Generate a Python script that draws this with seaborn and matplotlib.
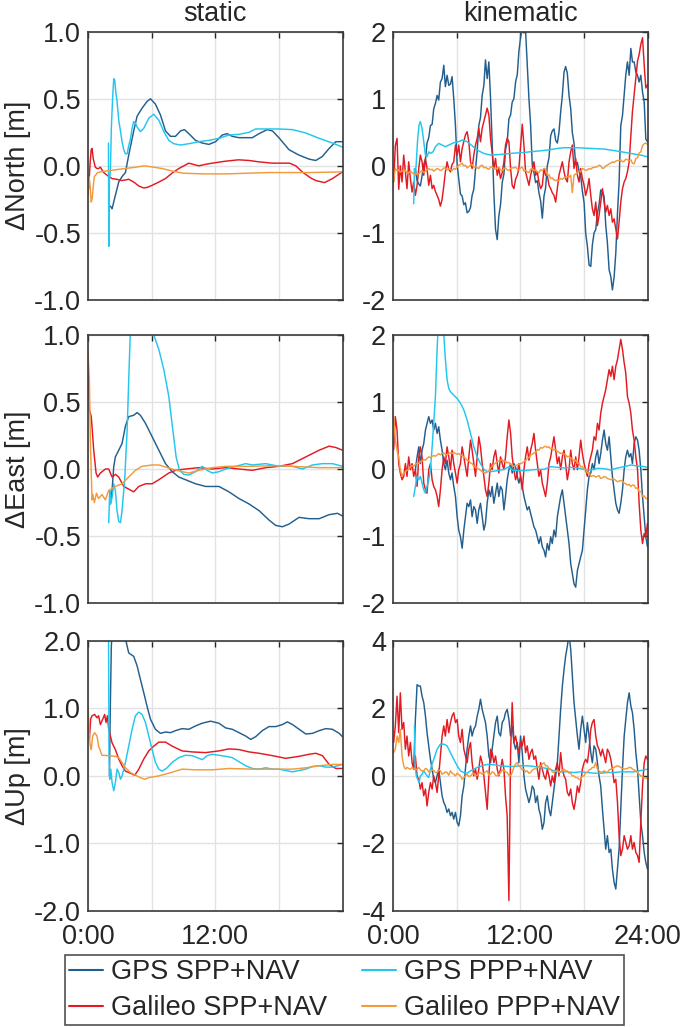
import matplotlib
matplotlib.use("Agg")
import matplotlib.pyplot as plt
import pandas as pd
import seaborn as sns

# ---------------------------------------------------------------- labels
SERIES = ["GPS SPP+NAV", "Galileo SPP+NAV", "GPS PPP+NAV", "Galileo PPP+NAV"]
COLORS = {"GPS SPP+NAV": "#235f8e", "GPS PPP+NAV": "#22c6ef",
          "Galileo SPP+NAV": "#e31a22", "Galileo PPP+NAV": "#f29a3c"}
COL_TITLES = ["static", "kinematic"]
ROW_LABELS = ["\u0394North [m]", "\u0394East [m]", "\u0394Up [m]"]
X_TICKS = [0, 6, 12, 18, 24]
X_LABELS_STATIC = ["0:00", "", "12:00", "", ""]
X_LABELS_KIN = ["0:00", "", "12:00", "", "24:00"]
Y_TICKS = {(0, 0): [-1, -0.5, 0, 0.5, 1], (1, 0): [-1, -0.5, 0, 0.5, 1], (2, 0): [-2, -1, 0, 1, 2],
           (0, 1): [-2, -1, 0, 1, 2], (1, 1): [-2, -1, 0, 1, 2], (2, 1): [-4, -2, 0, 2, 4]}
Y_LABELS = {(0, 0): ["-1.0", "-0.5", "0.0", "0.5", "1.0"], (1, 0): ["-1.0", "-0.5", "0.0", "0.5", "1.0"],
            (2, 0): ["-2.0", "-1.0", "0.0", "1.0", "2.0"], (0, 1): ["-2", "-1", "0", "1", "2"],
            (1, 1): ["-2", "-1", "0", "1", "2"], (2, 1): ["-4", "-2", "0", "2", "4"]}

# ---------------------------------------------------------------- static North
sn_gps_spp_t = [2.11, 2.27, 2.58, 2.90, 3.21, 3.53, 3.84, 4.31, 4.63, 5.10, 5.57, 5.89, 6.36, 6.83, 7.31, 7.78,
                8.25, 8.72, 9.10, 9.51, 10.14, 10.77, 11.40, 12.03, 12.66, 13.13, 13.60, 14.24, 15.50, 16.13,
                16.90, 17.40, 18.00, 18.96, 19.90, 20.85, 21.48, 22.10, 22.74, 23.37, 24.00]
sn_gps_spp_v = [-0.30, -0.32, -0.22, -0.12, -0.08, -0.05, 0.08, 0.26, 0.37, 0.43, 0.48, 0.50, 0.46, 0.38, 0.26,
                0.22, 0.22, 0.26, 0.27, 0.24, 0.19, 0.17, 0.16, 0.18, 0.23, 0.24, 0.22, 0.21, 0.21, 0.24, 0.27,
                0.26, 0.21, 0.12, 0.08, 0.05, 0.04, 0.07, 0.13, 0.18, 0.18]
sn_gps_ppp_t = [1.93, 1.96, 2.02, 2.11, 2.20, 2.33, 2.43, 2.52, 2.62, 2.74, 2.90, 3.06, 3.21, 3.37, 3.53, 3.69,
                3.84, 4.00, 4.16, 4.31, 4.47, 4.63, 4.94, 5.26, 5.73, 6.20, 6.68, 7.15, 7.62, 8.09, 8.72, 9.51,
                10.46, 11.40, 12.35, 13.29, 14.24, 15.18, 15.81, 16.76, 18.00, 19.28, 20.54, 21.80, 23.05, 24.00]
sn_gps_ppp_v = [0.17, -0.60, -0.10, -0.05, 0.28, 0.52, 0.65, 0.64, 0.55, 0.48, 0.34, 0.26, 0.18, 0.12, 0.09,
                0.09, 0.15, 0.20, 0.28, 0.33, 0.32, 0.29, 0.255, 0.28, 0.355, 0.385, 0.34, 0.255, 0.19, 0.165,
                0.155, 0.165, 0.18, 0.19, 0.205, 0.23, 0.235, 0.25, 0.275, 0.275, 0.275, 0.27, 0.245, 0.205,
                0.17, 0.14]
sn_gal_spp_t = [0.00, 0.06, 0.20, 0.30, 0.38, 0.50, 0.69, 0.85, 1.00, 1.17, 1.48, 1.80, 2.27, 2.70, 3.20, 3.84,
                4.30, 4.79, 5.26, 5.60, 6.05, 6.70, 7.30, 8.00, 8.57, 9.50, 10.46, 11.00, 11.70, 13.00, 14.20,
                15.20, 16.10, 17.40, 19.00, 19.60, 20.20, 21.00, 21.50, 22.30, 23.05, 24.00]
sn_gal_spp_v = [-0.15, -0.17, 0.02, 0.12, 0.13, 0.05, -0.01, -0.02, -0.02, -0.01, -0.05, -0.07, -0.095, -0.10,
                -0.11, -0.10, -0.12, -0.15, -0.165, -0.16, -0.145, -0.12, -0.095, -0.05, -0.02, 0.02, 0.00,
                0.01, 0.02, 0.035, 0.045, 0.04, 0.03, 0.02, 0.02, 0.00, -0.045, -0.09, -0.11, -0.125, -0.095,
                -0.045]
sn_gal_ppp_t = [0.00, 0.10, 0.20, 0.30, 0.40, 0.50, 0.60, 0.90, 1.60, 2.50, 3.50, 4.50, 5.30, 6.20, 7.00, 8.00,
                9.00, 11.00, 13.00, 15.00, 17.00, 19.00, 21.00, 24.00]
sn_gal_ppp_v = [-0.22, -0.08, -0.15, -0.27, -0.24, -0.15, -0.08, -0.05, -0.04, -0.03, -0.02, -0.01, 0.00,
                -0.01, -0.02, -0.04, -0.055, -0.06, -0.06, -0.055, -0.05, -0.05, -0.05, -0.045]

# ---------------------------------------------------------------- static East
se_gps_spp_t = [2.11, 2.27, 2.43, 2.58, 2.90, 3.21, 3.53, 3.84, 4.31, 4.63, 4.94, 5.42, 6.05, 6.68, 7.31, 7.94,
                8.57, 9.20, 10.14, 11.09, 12.35, 13.29, 14.24, 15.18, 16.13, 17.07, 17.70, 18.33, 18.96, 19.90,
                20.85, 21.80, 22.74, 23.53, 24.00]
se_gps_spp_v = [-0.26, -0.16, 0.02, 0.09, 0.14, 0.19, 0.32, 0.39, 0.40, 0.42, 0.40, 0.34, 0.24, 0.14, 0.04,
                -0.02, -0.06, -0.08, -0.11, -0.13, -0.13, -0.17, -0.22, -0.26, -0.31, -0.38, -0.42, -0.43,
                -0.41, -0.36, -0.37, -0.37, -0.34, -0.33, -0.35]
se_gps_ppp_t = [1.95, 2.05, 2.14, 2.27, 2.43, 2.58, 2.74, 2.90, 3.06, 3.21, 3.46, 3.69, 3.84, 4.00, 4.16, 4.94,
                5.73, 6.20, 6.68, 7.15, 7.62, 8.00, 8.31, 8.63, 9.04, 9.51, 10.14, 10.77, 11.24, 11.72, 12.35,
                12.98, 13.92, 14.87, 15.50, 16.76, 18.02, 19.28, 20.22, 21.17, 22.10, 23.05, 24.00]
se_gps_ppp_v = [-0.40, -0.16, -0.26, -0.21, -0.11, -0.16, -0.31, -0.39, -0.40, -0.31, -0.08, 0.29, 0.66, 1.04,
                1.30, 1.90, 1.50, 1.00, 0.89, 0.74, 0.54, 0.29, 0.09, -0.01, -0.04, -0.045, -0.02, 0.02, -0.01,
                -0.03, -0.02, 0.00, 0.02, 0.04, 0.03, 0.04, 0.02, 0.02, 0.00, 0.03, 0.04, 0.04, 0.02]
se_gal_spp_t = [0.00, 0.13, 0.31, 0.54, 0.76, 0.91, 1.17, 1.64, 1.95, 2.27, 2.58, 2.90, 3.37, 3.84, 4.31, 4.79,
                5.42, 6.05, 6.68, 7.62, 8.25, 9.20, 10.46, 11.72, 12.98, 14.24, 15.50, 16.76, 18.02, 19.28,
                20.54, 21.80, 22.74, 23.37, 24.00]
se_gal_spp_v = [0.79, 0.44, 0.39, 0.14, -0.03, -0.06, -0.03, 0.00, 0.00, -0.06, -0.04, -0.06, -0.13, -0.15,
                -0.17, -0.13, -0.11, -0.11, -0.08, -0.03, -0.01, 0.00, 0.01, 0.00, 0.01, 0.00, -0.01, 0.01,
                0.02, 0.04, 0.09, 0.14, 0.17, 0.16, 0.14]
se_gal_ppp_t = [0.00, 0.13, 0.22, 0.38, 0.45, 0.60, 0.80, 1.00, 1.32, 1.64, 1.95, 2.58, 3.21, 3.84, 4.47, 5.10,
                6.05, 6.68, 7.94, 8.88, 9.51, 10.46, 11.72, 12.98, 15.50, 17.40, 19.28, 21.80, 24.00]
se_gal_ppp_v = [0.86, 0.66, 0.22, -0.23, -0.19, -0.25, -0.18, -0.22, -0.19, -0.23, -0.16, -0.13, -0.11, -0.06,
                -0.01, 0.02, 0.03, 0.03, 0.00, -0.02, -0.03, -0.01, 0.01, 0.02, 0.02, 0.025, 0.02, 0.01, 0.01]

# ---------------------------------------------------------------- static Up
su_gps_spp_t = [2.02, 2.11, 2.20, 2.43, 2.90, 3.53, 3.84, 4.31, 4.63, 4.94, 5.26, 5.57, 5.89, 6.36, 6.83, 7.31,
                7.78, 8.25, 8.88, 9.51, 10.14, 10.77, 11.56, 12.35, 12.98, 13.61, 14.24, 14.87, 15.34, 15.81,
                16.44, 17.07, 17.70, 18.33, 18.80, 19.28, 19.91, 20.54, 21.17, 21.80, 22.43, 23.05, 23.69, 24.00]
su_gps_spp_v = [0.00, 1.08, 1.92, 2.60, 2.50, 2.03, 1.82, 1.77, 1.63, 1.43, 1.23, 1.03, 0.84, 0.69, 0.63, 0.65,
                0.64, 0.67, 0.70, 0.69, 0.74, 0.78, 0.81, 0.78, 0.71, 0.69, 0.64, 0.59, 0.54, 0.58, 0.67, 0.73,
                0.73, 0.76, 0.80, 0.76, 0.69, 0.62, 0.63, 0.67, 0.70, 0.69, 0.63, 0.58]
su_gps_ppp_t = [1.93, 1.98, 2.05, 2.15, 2.27, 2.43, 2.58, 2.74, 2.90, 3.06, 3.21, 3.37, 3.53, 3.84, 4.16, 4.47,
                4.79, 5.10, 5.42, 5.73, 6.05, 6.36, 6.68, 6.99, 7.46, 7.94, 8.57, 9.20, 9.83, 10.46, 10.77,
                11.24, 11.72, 12.35, 12.98, 13.61, 14.24, 14.87, 15.50, 16.13, 16.76, 17.39, 18.02, 18.65,
                19.28, 19.91, 20.54, 21.17, 21.80, 22.43, 23.05, 24.00]
su_gps_ppp_v = [2.40, 0.30, -0.05, 0.10, -0.10, -0.22, -0.10, 0.10, 0.05, -0.05, 0.00, 0.10, 0.20, 0.44, 0.69,
                0.89, 0.945, 0.91, 0.79, 0.59, 0.39, 0.20, 0.10, 0.07, 0.12, 0.20, 0.27, 0.305, 0.30, 0.26,
                0.24, 0.30, 0.32, 0.305, 0.29, 0.27, 0.21, 0.15, 0.11, 0.10, 0.12, 0.10, 0.10, 0.08, 0.06,
                0.08, 0.10, 0.14, 0.15, 0.13, 0.13, 0.17]
su_gal_spp_t = [0.00, 0.13, 0.25, 0.38, 0.63, 0.85, 1.00, 1.17, 1.39, 1.57, 1.70, 1.83, 1.95, 2.27, 2.58, 2.90,
                3.21, 3.53, 4.00, 4.41, 4.79, 5.26, 5.73, 6.20, 6.68, 7.31, 7.94, 8.88, 9.83, 11.09, 12.35,
                13.29, 14.24, 15.18, 16.13, 17.39, 18.65, 19.91, 20.85, 21.48, 22.11, 22.74, 23.37, 24.00]
su_gal_spp_v = [0.74, 0.54, 0.84, 0.89, 0.91, 0.86, 0.89, 0.76, 0.84, 0.91, 0.79, 0.89, 0.69, 0.49, 0.39, 0.25,
                0.15, 0.07, 0.04, 0.01, 0.10, 0.25, 0.37, 0.44, 0.50, 0.50, 0.44, 0.37, 0.355, 0.345, 0.37,
                0.40, 0.39, 0.355, 0.335, 0.30, 0.26, 0.29, 0.32, 0.335, 0.30, 0.17, 0.11, 0.11]
su_gal_ppp_t = [0.00, 0.13, 0.22, 0.31, 0.44, 0.63, 0.85, 1.00, 1.32, 1.95, 2.58, 2.90, 3.21, 3.53, 4.00, 4.47,
                4.94, 5.35, 5.73, 6.68, 7.62, 8.88, 10.14, 11.72, 13.29, 15.50, 17.39, 19.28, 20.54, 21.80,
                23.05, 24.00]
su_gal_ppp_v = [1.03, 0.59, 0.44, 0.39, 0.59, 0.64, 0.59, 0.44, 0.305, 0.30, 0.29, 0.27, 0.20, 0.12, 0.05, 0.01,
                -0.025, -0.05, -0.025, 0.00, 0.04, 0.10, 0.09, 0.09, 0.11, 0.10, 0.10, 0.10, 0.12, 0.15, 0.17,
                0.17]

# ---------------------------------------------------------------- kinematic sample times (hours)
T_K = [0.06, 0.22, 0.38, 0.54, 0.69, 0.85, 1.01, 1.17, 1.32, 1.48,
       1.64, 1.80, 1.95, 2.11, 2.27, 2.43, 2.58, 2.74, 2.90, 3.06,
       3.21, 3.37, 3.53, 3.69, 3.84, 4.00, 4.16, 4.31, 4.47, 4.63,
       4.79, 4.94, 5.10, 5.26, 5.42, 5.57, 5.73, 5.89, 6.05, 6.20,
       6.36, 6.52, 6.68, 6.83, 6.99, 7.15, 7.31, 7.46, 7.62, 7.78,
       7.94, 8.09, 8.25, 8.41, 8.57, 8.72, 8.88, 9.04, 9.20, 9.35,
       9.51, 9.67, 9.83, 9.98, 10.14, 10.30, 10.46, 10.61, 10.77, 10.93,
       11.09, 11.24, 11.40, 11.56, 11.72, 11.87, 12.03, 12.19, 12.35, 12.50,
       12.66, 12.82, 12.98, 13.13, 13.29, 13.45, 13.61, 13.76, 13.92, 14.08,
       14.24, 14.39, 14.55, 14.71, 14.87, 15.02, 15.18, 15.34, 15.50, 15.65,
       15.81, 15.97, 16.13, 16.28, 16.44, 16.60, 16.76, 16.91, 17.07, 17.23,
       17.39, 17.54, 17.70, 17.86, 18.02, 18.17, 18.33, 18.49, 18.65, 18.80,
       18.96, 19.12, 19.28, 19.43, 19.59, 19.75, 19.91, 20.06, 20.22, 20.38,
       20.54, 20.69, 20.85, 21.01, 21.17, 21.32, 21.48, 21.64, 21.80, 21.95,
       22.11, 22.27, 22.43, 22.58, 22.74, 22.90, 23.06, 23.21, 23.37, 23.53,
       23.69, 23.84, 24.00]

# ---------------------------------------------------------------- kinematic North
kn_gps_spp_v = [-0.05, -0.22, -0.27, -0.30, -0.15, 0.02, 0.10, 0.34, 0.42, 0.60,
                0.62, 0.85, 0.93, 1.05, 0.98, 1.25, 1.30, 1.50, 1.18, 1.35,
                1.20, 1.22, 1.33, 1.00, 0.60, 0.02, -0.20, -0.42, -0.45, -0.58,
                -0.55, -0.70, -0.68, -0.62, -0.44, -0.35, -0.05, 0.22, 0.60, 0.72,
                1.05, 1.20, 1.58, 1.30, 1.55, 1.00, 0.35, -0.40, -0.95, -1.10,
                -0.75, -0.58, -0.25, -0.12, 0.24, 0.36, 0.70, 0.76, 0.95, 1.00,
                1.25, 1.36, 1.70, 1.92, 2.05, 1.98, 2.02, 1.50, 1.00, 0.60,
                0.02, -0.10, -0.25, -0.22, -0.40, -0.52, -0.78, -0.45, -0.33, 0.00,
                0.12, 0.45, 0.52, 0.55, 0.38, 0.34, 0.50, 0.80, 1.05, 1.40,
                1.48, 1.38, 1.05, 0.85, 0.50, 0.34, 0.02, 0.05, -0.08, -0.15,
                -0.38, -0.55, -1.00, -1.20, -1.48, -1.50, -1.18, -1.00, -0.95, -0.70,
                -0.58, -0.36, -0.38, -0.46, -0.88, -1.15, -1.55, -1.65, -1.85, -1.66,
                -1.30, -0.70, -0.25, 0.60, 0.75, 1.05, 1.35, 1.55, 1.35, 1.75,
                1.55, 1.55, 1.40, 1.35, 1.25, 1.35, 1.10, 0.95, 0.40, 0.36]
kn_gal_spp_v = [-0.24, 0.30, 0.41, -0.35, 0.00, -0.24, 0.16, -0.09, -0.34, 0.06,
                -0.19, -0.39, -0.24, -0.44, -0.29, -0.04, 0.16, 0.06, -0.14, 0.11,
                -0.04, -0.29, -0.14, -0.34, -0.29, -0.38, -0.44, -0.50, -0.60, -0.50,
                -0.30, -0.09, 0.06, -0.05, -0.09, 0.02, 0.06, 0.31, 0.16, 0.31,
                0.06, 0.26, 0.36, 0.46, 0.51, 0.36, 0.06, -0.04, 0.16, 0.31,
                0.41, 0.56, 0.36, 0.56, 0.66, 0.76, 0.86, 0.76, 0.40, 0.20,
                -0.04, 0.11, -0.14, -0.04, -0.19, -0.10, 0.06, 0.31, 0.41, 0.36,
                -0.04, -0.29, -0.34, -0.20, -0.14, -0.04, 0.30, 0.62, 0.30, -0.09,
                -0.19, -0.29, -0.14, -0.04, 0.06, -0.14, -0.09, -0.24, -0.34, -0.29,
                -0.04, -0.14, -0.14, -0.29, -0.34, -0.40, -0.44, -0.54, -0.34, -0.14,
                -0.04, 0.06, -0.09, -0.19, -0.24, 0.06, 0.21, 0.31, -0.04, 0.11,
                -0.14, -0.24, -0.04, -0.19, -0.29, -0.44, -0.34, -0.19, -0.44, -0.64,
                -0.74, -0.54, -0.89, -0.74, -0.54, -0.34, -0.54, -0.69, -0.59, -0.74,
                -0.64, -0.84, -0.79, -0.94, -1.09, -0.84, -0.54, -0.34, -0.24, -0.19,
                -0.09, 0.06, 0.46, 0.81, 1.06, 1.31, 1.56, 1.66, 1.81, 1.91,
                1.50, 1.16, 1.21]
kn_gps_ppp_t = [1.95, 2.02, 2.11, 2.20, 2.33, 2.46, 2.58, 2.74, 2.90, 3.06, 3.21, 3.37, 3.53, 3.78, 4.00, 4.31,
                4.63, 4.94, 5.26, 5.73, 6.20, 6.52, 6.99, 7.46, 7.94, 8.57, 9.20, 10.14, 11.09, 12.35, 13.61,
                14.55, 15.50, 16.13, 17.39, 18.65, 19.91, 21.17, 22.43, 23.37, 24.00]
kn_gps_ppp_v = [-0.565, -0.04, -0.14, 0.06, 0.41, 0.61, 0.66, 0.56, 0.36, 0.16, 0.135, 0.21, 0.185, 0.21, 0.285,
                0.335, 0.31, 0.285, 0.31, 0.345, 0.36, 0.385, 0.36, 0.30, 0.235, 0.185, 0.16, 0.17, 0.185, 0.20,
                0.22, 0.235, 0.26, 0.27, 0.27, 0.26, 0.25, 0.22, 0.185, 0.16, 0.135]
kn_gal_ppp_v = [-0.21, -0.04, -0.07, -0.06, -0.09, -0.08, -0.06, -0.07, -0.11, -0.10,
                -0.08, -0.10, -0.12, -0.14, -0.11, -0.12, -0.09, -0.07, -0.10, -0.08,
                -0.06, -0.04, -0.06, -0.05, -0.08, -0.06, -0.04, -0.05, -0.07, -0.06,
                -0.03, -0.04, -0.06, -0.04, -0.06, -0.07, -0.04, -0.05, -0.02, 0.01,
                0.02, 0.04, 0.00, 0.01, -0.03, -0.01, 0.01, 0.02, -0.02, -0.01,
                -0.03, -0.04, 0.00, 0.01, -0.03, -0.02, -0.04, -0.05, -0.02, -0.01,
                -0.04, -0.05, -0.03, -0.02, -0.06, -0.07, -0.04, -0.03, -0.06, -0.07,
                -0.04, -0.03, -0.03, -0.02, -0.05, -0.06, -0.03, -0.02, -0.08, -0.07,
                -0.09, -0.10, -0.05, -0.04, -0.07, -0.06, -0.09, -0.10, -0.06, -0.07,
                -0.04, -0.05, -0.14, -0.13, -0.19, -0.18, -0.21, -0.22, -0.21, -0.22,
                -0.19, -0.20, -0.18, -0.17, -0.16, -0.17, -0.14, -0.40, -0.14, -0.12,
                -0.11, -0.08, -0.09, -0.04, -0.05, -0.07, -0.06, -0.04, -0.05, -0.03,
                -0.02, -0.02, -0.01, 0.01, 0.00, -0.04, -0.03, 0.00, 0.01, 0.03,
                0.04, 0.06, 0.05, 0.07, 0.08, 0.08, 0.09, 0.06, 0.07, 0.10,
                0.09, 0.08, 0.09, 0.04, 0.03, 0.11, 0.12, 0.19, 0.21, 0.30,
                0.33, 0.34, 0.32]

# ---------------------------------------------------------------- kinematic East
ke_gps_spp_v = [-0.01, 0.18, 0.33, 0.08, 0.28, 0.38, 0.58, 0.68, 0.78, 0.68,
                0.73, 0.58, 0.68, 0.53, 0.63, 0.43, 0.28, 0.08, -0.01, 0.13,
                -0.06, -0.16, -0.06, -0.26, -0.41, -0.71, -0.91, -1.01, -1.18, -0.91,
                -0.71, -0.51, -0.56, -0.46, -0.71, -0.56, -0.61, -0.81, -0.61, -0.51,
                -0.71, -0.91, -0.81, -0.51, -0.31, -0.41, -0.26, -0.51, -0.36, -0.21,
                -0.41, -0.26, -0.31, -0.61, -0.41, -0.16, -0.01, 0.08, -0.06, 0.08,
                0.03, -0.11, -0.21, -0.11, -0.26, -0.41, -0.51, -0.61, -0.56, -0.66,
                -0.76, -0.86, -0.91, -1.01, -1.11, -1.01, -1.16, -1.21, -1.31, -1.11,
                -1.21, -1.01, -1.11, -0.91, -1.01, -0.71, -0.56, -0.41, -0.31, -0.51,
                -0.71, -0.91, -1.11, -1.41, -1.56, -1.71, -1.76, -1.51, -1.41, -1.31,
                -1.21, -0.91, -0.61, -0.31, -0.11, -0.06, 0.08, -0.01, 0.18, 0.28,
                0.08, 0.23, 0.43, 0.58, 0.38, 0.28, 0.48, 0.18, -0.11, -0.31,
                -0.51, -0.61, -0.66, -0.51, -0.31, -0.01, 0.18, 0.28, 0.18, 0.23,
                0.08, 0.38, 0.48, 0.43, 0.28, -0.01, -0.41, -0.71, -1.01, -1.16]
ke_gal_spp_v = [0.29, 0.78, 0.58, 0.08, -0.06, -0.16, -0.11, 0.08, -0.11, 0.18,
                -0.01, 0.08, -0.11, -0.01, -0.26, 0.18, 0.33, 0.18, -0.21, -0.31,
                -0.36, -0.01, 0.08, -0.16, -0.26, -0.31, -0.41, -0.56, -0.31, -0.01,
                0.18, 0.08, 0.33, 0.18, -0.01, 0.28, 0.08, -0.06, -0.21, -0.01,
                0.08, 0.33, 0.18, 0.03, -0.11, 0.18, 0.43, 0.28, 0.08, -0.11,
                0.18, 0.48, 0.33, 0.08, -0.11, -0.31, -0.41, -0.21, 0.08, -0.01,
                0.18, 0.28, 0.08, -0.06, 0.18, 0.08, -0.01, 0.18, 0.48, 0.73,
                0.53, 0.18, -0.01, -0.16, -0.06, 0.08, -0.11, -0.31, -0.01, 0.18,
                0.33, 0.13, 0.28, 0.38, 0.53, 0.28, 0.08, -0.11, -0.01, -0.21,
                -0.31, -0.41, -0.21, 0.08, 0.18, 0.33, 0.48, 0.28, 0.08, 0.18,
                -0.01, 0.18, 0.28, 0.08, -0.16, -0.01, 0.28, 0.08, -0.01, 0.18,
                -0.01, 0.18, 0.43, 0.23, 0.08, -0.01, -0.11, 0.08, 0.18, 0.28,
                0.48, 0.43, 0.68, 0.58, 0.83, 0.98, 1.08, 1.18, 1.33, 1.48,
                1.38, 1.53, 1.33, 1.53, 1.63, 1.78, 1.93, 1.78, 1.58, 1.43,
                1.08, 0.98, 0.83, 0.58, 0.43, 0.18, -0.01, -0.51, -0.91, -1.11,
                -0.96, -1.01, -0.81]
ke_gps_ppp_t = [1.95, 2.11, 2.27, 2.43, 2.58, 2.74, 2.90, 3.06, 3.21, 3.37, 3.53, 3.69, 3.84, 4.00, 4.16, 4.31,
                4.47, 4.63, 4.79, 4.94, 5.10, 5.26, 5.42, 5.73, 6.05, 6.36, 6.68, 6.99, 7.31, 7.62, 7.94, 8.25,
                8.57, 8.88, 9.20, 9.83, 10.46, 10.93, 11.24, 11.72, 12.35, 12.98, 13.61, 14.24, 14.87, 15.50,
                16.13, 16.76, 17.39, 18.02, 18.65, 19.28, 19.91, 20.54, 21.17, 21.80, 22.43, 23.06, 23.69, 24.00]
ke_gps_ppp_v = [-0.41, -0.26, -0.11, -0.16, -0.11, -0.21, -0.31, -0.36, -0.26, -0.16, -0.01, 0.33, 0.68, 1.08,
                1.78, 2.30, 2.60, 2.30, 2.00, 1.63, 1.33, 1.20, 1.15, 1.10, 1.05, 0.98, 0.88, 0.73, 0.53, 0.33,
                0.18, 0.08, -0.005, -0.04, -0.04, -0.025, -0.005, 0.035, -0.015, -0.025, -0.025, -0.015, -0.005,
                -0.005, 0.035, 0.025, 0.015, 0.025, 0.015, -0.005, -0.015, 0.01, 0.005, -0.015, 0.015, 0.035,
                0.06, 0.045, 0.035, 0.025]
ke_gal_ppp_v = [0.78, 0.43, 0.28, 0.18, -0.01, -0.11, -0.06, -0.04, -0.02, 0.00,
                0.03, 0.05, 0.04, 0.07, 0.09, 0.08, 0.11, 0.12, 0.14, 0.13,
                0.16, 0.18, 0.17, 0.19, 0.20, 0.19, 0.21, 0.23, 0.21, 0.23,
                0.24, 0.22, 0.21, 0.23, 0.24, 0.23, 0.25, 0.23, 0.22, 0.23,
                0.21, 0.20, 0.18, 0.16, 0.13, 0.12, 0.09, 0.08, 0.04, 0.03,
                0.01, 0.00, -0.02, -0.04, -0.05, -0.06, -0.04, -0.03, 0.02, 0.04,
                0.07, 0.09, 0.11, 0.12, 0.13, 0.14, 0.11, 0.12, 0.09, 0.10,
                0.07, 0.06, 0.04, 0.05, 0.06, 0.07, 0.08, 0.09, 0.11, 0.12,
                0.16, 0.17, 0.21, 0.22, 0.24, 0.25, 0.29, 0.28, 0.32, 0.31,
                0.33, 0.34, 0.32, 0.33, 0.30, 0.31, 0.28, 0.29, 0.26, 0.25,
                0.23, 0.24, 0.22, 0.21, 0.18, 0.19, 0.16, 0.15, 0.12, 0.13,
                0.08, 0.09, 0.03, 0.04, -0.01, 0.00, -0.06, -0.05, -0.11, -0.10,
                -0.10, -0.12, -0.11, -0.10, -0.14, -0.13, -0.11, -0.12, -0.14, -0.15,
                -0.16, -0.15, -0.15, -0.17, -0.19, -0.18, -0.17, -0.18, -0.21, -0.22,
                -0.24, -0.23, -0.26, -0.24, -0.24, -0.29, -0.28, -0.34, -0.33, -0.41,
                -0.40, -0.44, -0.44]

# ---------------------------------------------------------------- kinematic Up
ku_gps_spp_v = [0.20, 1.67, 2.70, 2.66, 2.66, 2.36, 2.17, 1.77, 1.28, 0.89,
                0.49, 0.20, -0.10, -0.20, 0.00, 0.20, -0.20, -0.59, -0.79, -0.89,
                -1.08, -0.98, -1.18, -1.08, -1.28, -1.08, -1.38, -1.48, -1.18, -0.59,
                -0.30, 0.20, 0.79, 1.18, 1.48, 1.18, 1.38, 1.48, 1.77, 1.97,
                2.27, 1.97, 1.77, 1.58, 1.18, 0.59, 0.39, 0.79, 1.18, 1.58,
                1.77, 1.28, 1.18, 1.58, 1.67, 1.87, 1.97, 1.67, 1.18, 1.48,
                0.99, 0.79, 0.99, 0.39, 1.18, 0.69, 0.00, -0.39, -0.59, -0.79,
                -0.59, -0.30, -0.39, -0.79, -0.59, -0.99, -1.18, -1.58, -1.38, -0.79,
                -0.59, -0.99, -1.18, -0.79, -0.39, 0.00, 0.39, 1.18, 1.97, 2.66,
                3.15, 3.55, 3.84, 4.20, 3.74, 2.96, 2.17, 1.67, 1.18, 0.79,
                1.38, 1.77, 1.38, 0.99, 1.58, 1.18, 0.69, 0.39, 0.89, 0.79,
                0.39, 0.00, -0.30, -0.99, -1.58, -2.17, -1.77, -2.27, -2.17, -2.76,
                -3.15, -3.35, -2.76, -2.17, -0.99, 0.20, 1.18, 1.67, 2.17, 2.46,
                2.07, 1.87, 1.38, 0.69, 0.20, -0.59, -1.38, -1.77, -2.27, -2.56,
                -2.76]
ku_gal_spp_v = [0.99, 1.48, 2.36, 1.28, 2.46, 1.38, 1.58, 0.79, 1.18, 0.59,
                0.99, 0.39, 0.20, 0.59, 0.00, -0.10, -0.39, -0.20, -0.59, -0.39,
                -0.89, -0.49, -0.20, -0.39, 0.00, -0.20, -0.49, 0.00, 0.59, 1.18,
                1.48, 1.18, 1.67, 1.28, 1.58, 1.77, 1.87, 1.58, 1.67, 1.18,
                0.99, 1.38, 0.79, 0.59, 0.39, 0.79, 0.99, 0.39, 0.00, 0.20,
                -0.10, 0.20, 0.59, 0.39, 0.00, -0.49, -0.99, 0.00, 0.79, 0.69,
                0.39, 0.59, 0.20, 0.00, 0.20, 0.49, 0.20, -0.59, -1.20, -3.69,
                0.69, 2.17, 0.99, 1.18, 0.89, 0.69, 0.99, 0.89, 1.18, 0.69,
                0.89, 0.49, 0.69, 0.79, 0.49, 0.59, 0.20, -0.10, 0.39, 0.20,
                0.00, -0.10, 0.20, 0.00, -0.30, 0.00, -0.20, 0.20, 0.39, 0.00,
                0.69, 0.20, 0.00, -0.10, -0.49, -0.59, -0.39, -0.79, -0.99, -0.69,
                -0.30, -0.49, -0.20, 0.20, 0.39, 0.49, 0.39, 0.79, 1.38, 1.58,
                1.67, 1.18, 0.89, 0.79, 0.59, 0.79, 0.59, 0.39, 0.79, 0.69,
                0.49, 0.20, -0.20, -0.10, -0.79, -1.77, -2.36, -2.17, -1.77, -1.97,
                -2.17, -2.07, -1.77, -2.17, -1.97, -2.27, -2.36, -2.56, -1.38, -0.30,
                0.39, 0.59, 0.49]
ku_gps_ppp_t = [2.02, 2.08, 2.20, 2.33, 2.46, 2.58, 2.74, 2.90, 3.21, 3.37, 3.53, 3.84, 4.16, 4.47, 4.79, 5.10,
                5.42, 5.73, 6.05, 6.36, 6.68, 6.99, 7.31, 7.62, 7.94, 8.41, 8.88, 9.51, 10.14, 10.77, 11.40,
                12.03, 12.66, 13.29, 13.92, 14.55, 15.18, 15.81, 16.44, 17.07, 17.70, 18.33, 18.96, 19.59,
                20.22, 20.85, 21.48, 22.11, 22.74, 23.37, 24.00]
ku_gps_ppp_v = [1.48, 0.30, 0.00, -0.10, -0.20, 0.00, 0.05, 0.15, 0.00, -0.05, 0.20, 0.49, 0.79, 0.94, 0.94,
                0.89, 0.69, 0.49, 0.30, 0.15, 0.10, 0.08, 0.15, 0.20, 0.25, 0.30, 0.34, 0.33, 0.30, 0.28, 0.28,
                0.30, 0.30, 0.28, 0.25, 0.22, 0.15, 0.12, 0.12, 0.10, 0.12, 0.10, 0.08, 0.08, 0.10, 0.10, 0.12,
                0.12, 0.12, 0.16, 0.20]
ku_gal_ppp_v = [0.69, 0.79, 1.18, 0.99, 1.38, 0.59, 0.30, 0.20, 0.25, 0.22,
                0.20, 0.25, 0.22, 0.18, 0.20, 0.25, 0.18, 0.15, 0.15, 0.22,
                0.20, 0.12, 0.12, 0.18, 0.16, 0.10, 0.10, 0.18, 0.15, 0.05,
                0.08, 0.12, 0.10, 0.02, 0.15, 0.08, 0.05, 0.00, 0.08, 0.04,
                0.00, -0.10, -0.05, 0.00, 0.05, -0.02, 0.00, 0.05, 0.08, 0.00,
                0.02, 0.08, 0.10, 0.05, 0.08, 0.12, 0.15, 0.02, 0.05, 0.12,
                0.10, 0.02, 0.00, 0.05, 0.10, 0.18, 0.18, 0.12, 0.10, 0.02,
                0.00, 0.10, 0.25, 0.35, 0.39, 0.30, 0.25, 0.18, 0.20, 0.12,
                0.15, 0.08, 0.10, 0.18, 0.20, 0.22, 0.25, 0.28, 0.30, 0.35,
                0.39, 0.30, 0.30, 0.22, 0.20, 0.12, 0.10, 0.15, 0.15, 0.12,
                0.10, 0.18, 0.20, 0.15, 0.15, 0.08, 0.08, 0.00, 0.00, -0.05,
                -0.05, -0.10, -0.10, 0.00, 0.00, 0.10, 0.10, 0.18, 0.20, 0.25,
                0.25, 0.39, 0.20, 0.15, 0.10, 0.12, 0.15, 0.12, 0.10, 0.18,
                0.20, 0.22, 0.25, 0.28, 0.30, 0.28, 0.25, 0.22, 0.20, 0.21,
                0.22, 0.25, 0.25, 0.20, 0.18, 0.15, 0.10, 0.05, 0.00, -0.02,
                -0.05, -0.07, -0.08]


def tail(v):
    """Kinematic series are sampled on T_K and all run to the end of the day."""
    return T_K[len(T_K) - len(v):], v


PANELS = {
    (0, 0): {"GPS SPP+NAV": (sn_gps_spp_t, sn_gps_spp_v), "GPS PPP+NAV": (sn_gps_ppp_t, sn_gps_ppp_v),
             "Galileo SPP+NAV": (sn_gal_spp_t, sn_gal_spp_v), "Galileo PPP+NAV": (sn_gal_ppp_t, sn_gal_ppp_v)},
    (1, 0): {"GPS SPP+NAV": (se_gps_spp_t, se_gps_spp_v), "GPS PPP+NAV": (se_gps_ppp_t, se_gps_ppp_v),
             "Galileo SPP+NAV": (se_gal_spp_t, se_gal_spp_v), "Galileo PPP+NAV": (se_gal_ppp_t, se_gal_ppp_v)},
    (2, 0): {"GPS SPP+NAV": (su_gps_spp_t, su_gps_spp_v), "GPS PPP+NAV": (su_gps_ppp_t, su_gps_ppp_v),
             "Galileo SPP+NAV": (su_gal_spp_t, su_gal_spp_v), "Galileo PPP+NAV": (su_gal_ppp_t, su_gal_ppp_v)},
    (0, 1): {"GPS SPP+NAV": tail(kn_gps_spp_v), "GPS PPP+NAV": (kn_gps_ppp_t, kn_gps_ppp_v),
             "Galileo SPP+NAV": tail(kn_gal_spp_v), "Galileo PPP+NAV": tail(kn_gal_ppp_v)},
    (1, 1): {"GPS SPP+NAV": tail(ke_gps_spp_v), "GPS PPP+NAV": (ke_gps_ppp_t, ke_gps_ppp_v),
             "Galileo SPP+NAV": tail(ke_gal_spp_v), "Galileo PPP+NAV": tail(ke_gal_ppp_v)},
    (2, 1): {"GPS SPP+NAV": tail(ku_gps_spp_v), "GPS PPP+NAV": (ku_gps_ppp_t, ku_gps_ppp_v),
             "Galileo SPP+NAV": tail(ku_gal_spp_v), "Galileo PPP+NAV": tail(ku_gal_ppp_v)},
}

# ---------------------------------------------------------------- style
sns.set_style("white")
plt.rcParams["font.family"] = ["Liberation Sans", "DejaVu Sans"]
plt.rcParams["axes.unicode_minus"] = False
FS = 19.5
INK = "#262626"

W, H = 685, 1027
fig = plt.figure(figsize=(W / 100, H / 100), dpi=100)
COL_X = [88.0, 393.0]
COL_W = 254.5
ROW_Y = [(31.7, 300.0), (334.7, 603.3), (640.8, 911.0)]

handles = labels = None
for (r, c), series in PANELS.items():
    top, bot = ROW_Y[r]
    ax = fig.add_axes([COL_X[c] / W, 1 - bot / H, COL_W / W, (bot - top) / H])
    frames = []
    for name, (t, v) in series.items():
        if len(t) != len(v):
            raise ValueError(f"length mismatch in panel {(r, c)} {name}: {len(t)} vs {len(v)}")
        frames.append(pd.DataFrame({"t": t, "v": v, "series": name}))
    df = pd.concat(frames, ignore_index=True)
    first = (r == 0 and c == 0)
    sns.lineplot(data=df, x="t", y="v", hue="series", hue_order=SERIES, palette=COLORS,
                 estimator=None, sort=False, lw=1.05, ax=ax, legend=first)
    if first:
        handles, labels = ax.get_legend_handles_labels()
        ax.get_legend().remove()

    yt = Y_TICKS[(r, c)]
    ax.set_xlim(0, 24)
    ax.set_ylim(yt[0], yt[-1])
    ax.set_xticks(X_TICKS)
    if r == 2:
        ax.set_xticklabels(X_LABELS_STATIC if c == 0 else X_LABELS_KIN)
    else:
        ax.set_xticklabels([])
    ax.set_yticks(yt)
    ax.set_yticklabels(Y_LABELS[(r, c)])
    ax.set_xlabel("")
    ax.set_ylabel("")
    ax.grid(True, color="#e2e2e2", lw=1.0)
    ax.set_axisbelow(True)
    for sp in ax.spines.values():
        sp.set_color("#3a3a3a")
        sp.set_linewidth(1.2)
    ax.tick_params(axis="both", direction="in", length=4, width=1.0, top=True, right=True,
                   labelsize=FS, colors=INK)
    ax.tick_params(axis="y", pad=5.0)
    ax.tick_params(axis="x", pad=9.0)
    if c == 0:
        ax.set_ylabel(ROW_LABELS[r], fontsize=FS, color=INK)
        ax.yaxis.set_label_coords(-0.225, 0.5)
    if r == 0:
        ax.set_title(COL_TITLES[c], fontsize=FS, color=INK, pad=8.0)

leg = fig.legend(handles, labels, ncol=2, loc="upper left",
                 bbox_to_anchor=(65 / W, 1 - 1023 / H, 559 / W, 68 / H), mode="expand",
                 borderaxespad=0, fontsize=FS, frameon=True, fancybox=False,
                 handlelength=1.25, handletextpad=0.3, columnspacing=1.2,
                 labelspacing=0.38, borderpad=0.15)
leg.get_frame().set_edgecolor(INK)
leg.get_frame().set_linewidth(1.2)
for line in leg.get_lines():
    line.set_linewidth(1.5)

fig.savefig("out.png", dpi=100)
